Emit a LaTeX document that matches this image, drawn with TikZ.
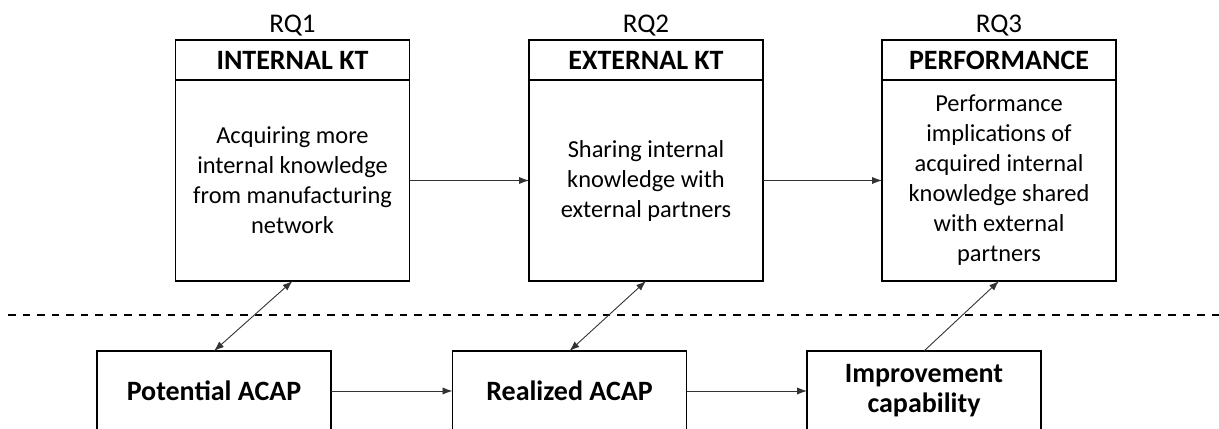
\documentclass[tikz,border=0pt]{standalone}
\usepackage{fontspec}
\setmainfont{Carlito}
\usepackage{tikz}
\usetikzlibrary{positioning,arrows.meta}

\begin{document}
\begin{tikzpicture}[
    x=0.5pt, y=-0.5pt,
    every node/.style={inner sep=0pt, outer sep=0pt},
    rqlabel/.style={font=\fontsize{13.5}{15}\selectfont},
    headbox/.style={draw, line width=0.8pt, minimum width=117pt, minimum height=20pt, font=\fontsize{14}{17}\selectfont\bfseries},
    bodybox/.style={draw, line width=0.8pt, minimum width=117pt, minimum height=100.5pt, align=center, font=\fontsize{12.2}{15}\selectfont},
    acapbox/.style={draw, line width=0.8pt, minimum width=117pt, minimum height=40pt, align=center, font=\fontsize{14}{15}\selectfont\bfseries},
    link/.style={draw=black!80, line width=0.45pt, -{Latex[length=5pt,width=3.6pt]}},
    twolink/.style={link, {Latex[length=5pt,width=3.6pt]}-{Latex[length=5pt,width=3.6pt]}}
]
\useasboundingbox (0,0) rectangle (1219,428);
\clip (0,0) rectangle (1219,428);

\node[headbox] (int-head) at (292.5,60) {INTERNAL KT};
\node[bodybox, below=0pt of int-head] (int) {Acquiring more\\internal knowledge\\from manufacturing\\network};
\node[rqlabel] (rq1) at (292.5,26) {RQ1};

\node[headbox] (ext-head) at (646,60) {EXTERNAL KT};
\node[bodybox, below=0pt of ext-head] (ext) {Sharing internal\\knowledge with\\external partners};
\node[rqlabel] (rq2) at (646,26) {RQ2};

\node[headbox] (perf-head) at (999,60) {PERFORMANCE};
\node[bodybox, below=0pt of perf-head] (perf) {Performance\\implications of\\acquired internal\\knowledge shared\\with external\\partners};
\node[rqlabel] (rq3) at (999,26) {RQ3};

\draw[line width=1pt, dash pattern=on 3.75pt off 3.5pt] (8,315) -- (1219,315);

\node[acapbox] (pot) at (214,391) {Potential ACAP};
\node[acapbox] (real) at (569.5,391) {Realized ACAP};
\node[acapbox] (imp) at (924,391) {Improvement\\capability};

\draw[link] (int) -- (ext);
\draw[link] (ext) -- (perf);
\draw[link] (pot) -- (real);
\draw[link] (real) -- (imp);
\draw[twolink] (int.south) -- (pot.north);
\draw[twolink] (ext.south) -- (real.north);
\draw[link] (imp.north) -- (perf.south);
\end{tikzpicture}
\end{document}
